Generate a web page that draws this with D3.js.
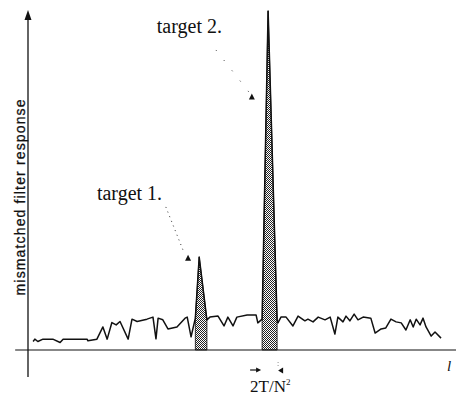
<!DOCTYPE html>
<html lang="en">
<head>
<meta charset="UTF-8">
<title>Mismatched filter response</title>
<script src="https://d3js.org/d3.v7.min.js"></script>
<style>
  body { margin: 0; background: #fff; }
  svg { display: block; }
  .serif { font-family: "Liberation Serif", "Times New Roman", serif; fill: #111; }
  .sans { font-family: "Liberation Sans", Arial, sans-serif; fill: #111; }
</style>
</head>
<body>
<svg width="458" height="401"></svg>
<script>
// filter output, time in arbitrary units, response normalised to target 2 = 100
const times = [1.2, 1.6, 2.3, 3.5, 5.8, 7.5, 8.2, 10.5, 13.8, 14.0, 16.1, 17.5, 18.5, 19.6, 20.6, 21.5,
  23.4, 24.3, 25.5, 27.8, 29.2, 29.9, 30.4, 31.5, 32.7, 34.8, 36.7, 37.2, 38.1, 39.1, 40.0, 41.8,
  42.5, 44.4, 45.8, 46.7, 47.9, 48.8, 51.2, 53.3, 53.7, 54.7, 56.1, 58.2, 58.4, 59.1, 60.3, 61.9,
  63.1, 64.7, 65.4, 66.6, 67.8, 69.4, 70.6, 71.7, 72.4, 73.6, 74.3, 75.2, 76.2, 77.1, 78.3, 80.1,
  81.1, 82.5, 83.6, 84.8, 86.0, 87.2, 88.3, 89.3, 90.0, 90.7, 91.6, 92.3, 93.0, 94.2, 95.1, 96.5];
const response = [2.5, 3.2, 2.5, 3.2, 3.2, 2.2, 3.2, 3.2, 3.2, 2.7, 3.2, 6.8, 3.2, 8.1, 7.4, 8.4,
  3.2, 9.1, 8.4, 9.1, 9.7, 3.3, 9.4, 8.9, 6.2, 6.8, 9.4, 9.7, 3.9, 9.4, 27.4, 8.9,
  9.7, 10.0, 7.1, 9.7, 7.1, 9.7, 10.3, 10.3, 8.0, 9.1, 100, 8.9, 8.0, 9.7, 9.7, 7.1,
  10.0, 8.6, 9.1, 8.3, 9.7, 8.9, 9.7, 4.7, 9.7, 8.3, 10.0, 8.6, 10.6, 8.9, 9.7, 9.4,
  5.0, 6.2, 6.5, 9.1, 8.3, 8.0, 5.9, 8.9, 6.8, 9.1, 7.4, 9.4, 6.8, 4.1, 5.3, 3.5];

// the two target returns (shaded)
const peakNames = ['target 1.', 'target 2.'];
const peakStart = [39.1, 54.7];
const peakEnd = [41.8, 58.2];

const svg = d3.select('svg');
const x = d3.scaleLinear().domain([0, 100]).range([28, 456]);
const y = d3.scaleLinear().domain([0, 100]).range([350, 11]);

const data = times.map((t, i) => ({ t: t, v: response[i] }));

// stipple used for the target areas
const defs = svg.append('defs');
const pat = defs.append('pattern').attr('id', 'stipple')
  .attr('patternUnits', 'userSpaceOnUse').attr('width', 2).attr('height', 2);
pat.append('rect').attr('width', 2).attr('height', 2).attr('fill', '#fff');
pat.append('rect').attr('x', 0).attr('y', 0).attr('width', 1).attr('height', 1).attr('fill', '#222');
pat.append('rect').attr('x', 1).attr('y', 1).attr('width', 1).attr('height', 1).attr('fill', '#222');

const area = d3.area().x(d => x(d.t)).y0(y(0)).y1(d => y(d.v));
peakNames.forEach((name, i) => {
  const pts = data.filter(d => d.t >= peakStart[i] && d.t <= peakEnd[i]);
  svg.append('path').datum(pts).attr('d', area)
    .attr('fill', 'url(#stipple)').attr('stroke', '#111').attr('stroke-width', 0.8);
});

// axes
svg.append('line')
  .attr('x1', x(-3)).attr('x2', x(100)).attr('y1', y(0)).attr('y2', y(0))
  .attr('stroke', '#111').attr('stroke-width', 1.2);
svg.append('line')
  .attr('x1', x(0)).attr('x2', x(0)).attr('y1', y(-8)).attr('y2', y(98))
  .attr('stroke', '#111').attr('stroke-width', 1.3);
svg.append('path')
  .attr('d', `M${x(0)},${y(100) - 1} l-3.5,10 l7,0 z`)
  .attr('fill', '#111');

// response trace
const line = d3.line().x(d => x(d.t)).y(d => y(d.v));
svg.append('path').datum(data).attr('d', line)
  .attr('fill', 'none').attr('stroke', '#111').attr('stroke-width', 1.5)
  .attr('stroke-linejoin', 'round');

// labels
svg.append('text').attr('class', 'sans')
  .attr('transform', `translate(25,${y(45)}) rotate(-90)`)
  .attr('text-anchor', 'middle').attr('font-size', 14)
  .attr('stroke', '#111').attr('stroke-width', 0.3)
  .attr('textLength', 196).attr('lengthAdjust', 'spacing')
  .text('mismatched filter response');

svg.append('text').attr('class', 'serif')
  .attr('x', 447).attr('y', 371).attr('font-size', 15).attr('font-style', 'italic')
  .text('l');

// target annotations: label, dotted leader, small arrowhead
const notes = [
  { lx: 16.1, lv: 44.2, a: [32.2, 42.2], b: [36.4, 28.9], head: [37.4, 27.1] },
  { lx: 30.1, lv: 93.5, a: [43.9, 88.5], b: [51.6, 76.1], head: [52.3, 74.6] }
];
notes.forEach((n, i) => {
  svg.append('text').attr('class', 'serif')
    .attr('x', x(n.lx)).attr('y', y(n.lv)).attr('font-size', 20)
    .text(peakNames[i]);
  svg.append('line')
    .attr('x1', x(n.a[0])).attr('y1', y(n.a[1])).attr('x2', x(n.b[0])).attr('y2', y(n.b[1]))
    .attr('stroke', '#333').attr('stroke-width', 1).attr('stroke-dasharray', i === 0 ? '1,4' : '1,12');
  svg.append('path')
    .attr('d', `M${x(n.head[0])},${y(n.head[1]) - 3.5} l3,6 l-6,0 z`)
    .attr('fill', '#111');
});

// 2T/N^2 spacing marker under target 2
const m0 = x(peakStart[1]), m1 = x(peakEnd[1]);
svg.append('line').attr('x1', m0 - 12).attr('x2', m0 - 3).attr('y1', 370).attr('y2', 370)
  .attr('stroke', '#111').attr('stroke-width', 1.2);
svg.append('path').attr('d', `M${m0 - 1},370 l-5,-2.5 l0,5 z`).attr('fill', '#111');
svg.append('path').attr('d', `M${m1 + 1},370.5 l5,-3 l0,6 z`).attr('fill', '#111');
svg.append('line').attr('x1', m1 + 1).attr('x2', m1 + 1).attr('y1', 362).attr('y2', 367)
  .attr('stroke', '#777').attr('stroke-width', 0.8).attr('stroke-dasharray', '1,2');

const lab = svg.append('text').attr('class', 'serif')
  .attr('x', m0 - 12).attr('y', 392).attr('font-size', 17);
lab.append('tspan').text('2T/N');
lab.append('tspan').attr('dy', -7).attr('font-size', 9).text('2');
</script>
</body>
</html>
